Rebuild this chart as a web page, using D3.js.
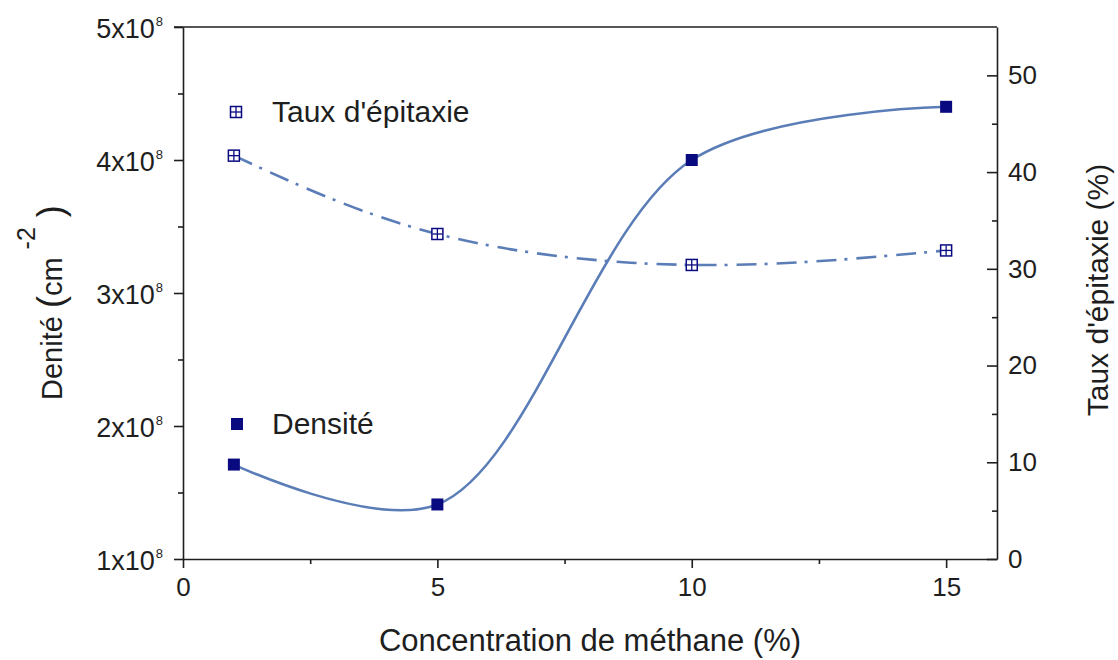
<!DOCTYPE html>
<html><head><meta charset="utf-8">
<script src="https://cdn.jsdelivr.net/npm/d3@7"></script>
<style>
html,body{margin:0;padding:0;background:#fff;}
svg{display:block;font-family:"Liberation Sans",Arial,sans-serif;}
</style></head>
<body>
<svg id="chart" width="1118" height="660"></svg>
<script>
// ---- data ----
const concentrations = [1, 5, 10, 15];
const densite = [1.71e8, 1.41e8, 4.0e8, 4.40e8];
const tauxEpitaxie = [41.7, 33.6, 30.4, 31.9];
const xTicks = [0, 5, 10, 15];
const xMinorTicks = [2.5, 7.5, 12.5];
const leftTicks = [1e8, 2e8, 3e8, 4e8, 5e8];
const leftTickLabels = ["1x10", "2x10", "3x10", "4x10", "5x10"];
const leftMinorTicks = [1.5e8, 2.5e8, 3.5e8, 4.5e8];
const rightTicks = [0, 10, 20, 30, 40, 50];
const rightMinorTicks = [5, 15, 25, 35, 45];
const legendLabels = ["Taux d'épitaxie", "Densité"];

// ---- layout ----
const L = 183, R = 997, T = 27, B = 559;
const lineColor = "#5a7db8", markColor = "#0a0a80", axisColor = "#1e1e1e", textColor = "#1e1e1e";

const svg = d3.select("#chart");
const x = d3.scaleLinear().domain([0, 16]).range([L, R]);
const yL = d3.scaleLinear().domain([1e8, 5e8]).range([B, T]);
const yR = d3.scaleLinear().domain([0, 55]).range([B, T]);

function styleAxis(g) {
  g.selectAll("path,line").attr("stroke", axisColor).attr("stroke-width", 1.6);
  g.selectAll("text").attr("fill", textColor);
}

// x axis
const gx = svg.append("g").attr("transform", `translate(0,${B})`)
  .call(d3.axisBottom(x).tickValues(xTicks).tickFormat(d3.format("d")).tickSizeInner(9).tickSizeOuter(0).tickPadding(8));
gx.selectAll("text").attr("font-size", 26).attr("dy", "0.78em");
styleAxis(gx);
const gxm = svg.append("g").attr("transform", `translate(0,${B})`)
  .call(d3.axisBottom(x).tickValues(xMinorTicks).tickFormat("").tickSizeInner(5).tickSizeOuter(0));
gxm.select(".domain").remove();
styleAxis(gxm);

// left axis
const gl = svg.append("g").attr("transform", `translate(${L},0)`)
  .call(d3.axisLeft(yL).tickValues(leftTicks).tickFormat("").tickSizeInner(9).tickSizeOuter(0));
styleAxis(gl);
gl.selectAll(".tick").each(function(d, i) {
  const t = d3.select(this).append("text")
    .attr("x", -20).attr("y", 1).attr("dy", "0.36em")
    .attr("text-anchor", "end").attr("font-size", 27).attr("fill", textColor);
  t.append("tspan").text(leftTickLabels[i]);
  t.append("tspan").attr("font-size", 13).attr("dx", 1).attr("dy", "-0.95em").text("8");
});
const glm = svg.append("g").attr("transform", `translate(${L},0)`)
  .call(d3.axisLeft(yL).tickValues(leftMinorTicks).tickFormat("").tickSizeInner(5).tickSizeOuter(0));
glm.select(".domain").remove();
styleAxis(glm);

// right axis (ticks inward)
const gr = svg.append("g").attr("transform", `translate(${R},0)`)
  .call(d3.axisRight(yR).tickValues(rightTicks).tickFormat(d3.format("d")).tickSizeInner(-10).tickSizeOuter(0).tickPadding(11));
gr.selectAll("text").attr("font-size", 26);
styleAxis(gr);
const grm = svg.append("g").attr("transform", `translate(${R},0)`)
  .call(d3.axisRight(yR).tickValues(rightMinorTicks).tickFormat("").tickSizeInner(-5).tickSizeOuter(0));
grm.select(".domain").remove();
styleAxis(grm);

// top frame line
svg.append("line").attr("x1", L - 9).attr("x2", R).attr("y1", T).attr("y2", T)
  .attr("stroke", axisColor).attr("stroke-width", 1.6);

// ---- series ----
const dens = concentrations.map((c, i) => [c, densite[i]]);
const taux = concentrations.map((c, i) => [c, tauxEpitaxie[i]]);

svg.append("path").datum(taux)
  .attr("d", d3.line().x(d => x(d[0])).y(d => yR(d[1])).curve(d3.curveNatural))
  .attr("fill", "none").attr("stroke", lineColor).attr("stroke-width", 2.6)
  .attr("stroke-dasharray", "20,8,3,9");

svg.append("path").datum(dens)
  .attr("d", d3.line().x(d => x(d[0])).y(d => yL(d[1])).curve(d3.curveCatmullRom))
  .attr("fill", "none").attr("stroke", lineColor).attr("stroke-width", 2.6);

const S = 12;
function gridMarker(g, cx, cy) {
  g.append("rect").attr("x", cx - S/2 + 0.5).attr("y", cy - S/2 + 0.5).attr("width", S - 1).attr("height", S - 1)
    .attr("fill", "#fff").attr("stroke", markColor).attr("stroke-width", 1.5);
  g.append("line").attr("x1", cx).attr("x2", cx).attr("y1", cy - S/2 + 1).attr("y2", cy + S/2 - 1)
    .attr("stroke", markColor).attr("stroke-width", 1.3);
  g.append("line").attr("y1", cy).attr("y2", cy).attr("x1", cx - S/2 + 1).attr("x2", cx + S/2 - 1)
    .attr("stroke", markColor).attr("stroke-width", 1.3);
}
const gm = svg.append("g");
taux.forEach(d => gridMarker(gm, x(d[0]), yR(d[1])));
svg.append("g").selectAll("rect").data(dens).join("rect")
  .attr("x", d => x(d[0]) - S/2).attr("y", d => yL(d[1]) - S/2)
  .attr("width", S).attr("height", S).attr("fill", markColor);

// ---- legend ----
gridMarker(svg.append("g"), 236, 112);
svg.append("rect").attr("x", 237 - S/2).attr("y", 424 - S/2).attr("width", S).attr("height", S).attr("fill", markColor);
svg.append("text").attr("x", 272).attr("y", 111).attr("dy", "0.36em").attr("font-size", 30)
  .attr("fill", textColor).text(legendLabels[0]);
svg.append("text").attr("x", 272).attr("y", 423).attr("dy", "0.36em").attr("font-size", 30)
  .attr("fill", textColor).text(legendLabels[1]);

// ---- axis titles ----
svg.append("text").attr("x", (L + R) / 2 + 0).attr("y", 651).attr("text-anchor", "middle")
  .attr("font-size", 31).attr("fill", textColor).text("Concentration de méthane (%)");

const yt = svg.append("text").attr("transform", "translate(62,400) rotate(-90)")
  .attr("text-anchor", "start").attr("font-size", 29).attr("fill", textColor);
yt.append("tspan").text("Denité ");
yt.append("tspan").attr("font-size", 36).attr("dy", 1).text("(");
yt.append("tspan").attr("dy", -1).text("cm ");
yt.append("tspan").attr("font-size", 25).attr("dy", -27).text("-2");
yt.append("tspan").attr("font-size", 36).attr("dy", 28).text(" )");

svg.append("text").attr("transform", "translate(1108,290) rotate(-90)")
  .attr("text-anchor", "middle").attr("font-size", 30).attr("fill", textColor)
  .text("Taux d'épitaxie (%)");
</script>
</body></html>
